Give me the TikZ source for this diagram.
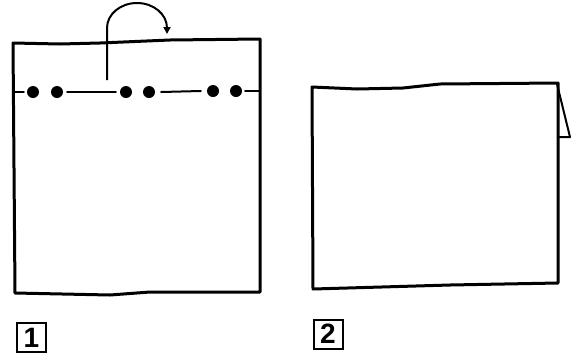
\documentclass[tikz,border=0pt]{standalone}
\usepackage{fontspec}
\newfontfamily\labfont{Liberation Sans}
\usetikzlibrary{arrows.meta}
\begin{document}
\begin{tikzpicture}[x=1pt,y=-1pt,
  sheet/.style={line width=3pt,line join=round,line cap=round},
  fold/.style={line width=2pt,line cap=round},
  dot/.style={circle,fill=black,inner sep=0pt,minimum size=12pt},
  numbox/.style={draw,line width=2pt,minimum width=29pt,minimum height=29pt,inner sep=0pt,font=\labfont\bfseries\fontsize{28}{28}\selectfont}]
\useasboundingbox (0,0) rectangle (572,357);
% sheet 1
\draw[sheet] (13,43) -- (60,44) -- (100,43) -- (170,40) -- (260,39) -- (260,292) -- (150,292) -- (110,295) -- (15,293) -- cycle;
% fold line with dots
\node[dot] (d1) at (33,92) {};
\node[dot] (d2) at (57,92) {};
\node[dot] (d3) at (126,92) {};
\node[dot] (d4) at (149,92) {};
\node[dot] (d5) at (213,91) {};
\node[dot] (d6) at (236,91) {};
\coordinate (l0) at (13,92);
\coordinate (r0) at (260,91);
\draw[fold] (l0) -- ([xshift=-3pt]d1.west);
\draw[fold] ([xshift=4pt]d2.east) -- ([xshift=-4pt]d3.west);
\draw[fold] ([xshift=6pt]d4.east) -- ([xshift=-6pt]d5.west);
\draw[fold] ([xshift=3pt]d6.east) -- (r0);
% turning arrow
\coordinate (a0) at (107,80);
\coordinate (a1) at (107,28);
\draw[line width=2pt,-{Triangle[length=7pt,width=7pt]}] (a0) -- (a1) arc[start angle=180,end angle=0,x radius=30,y radius=-25] -- ++(0,6);
% sheet 2
\draw[sheet] (312,87) -- (357,89) -- (403,88) -- (440,84) -- (558,83) -- (558,283) -- (450,285) -- (313,289) -- cycle;
\coordinate (c2) at (557,84);
\coordinate (f1) at (570,137);
\coordinate (f2) at (559,137);
\draw[line width=2pt,line join=round] (c2) -- (f1) -- (f2);
% labels
\node[numbox] (n1) at (31.5,337.5) {1};
\node[numbox] (n2) at (328,334) {2};
\end{tikzpicture}
\end{document}
